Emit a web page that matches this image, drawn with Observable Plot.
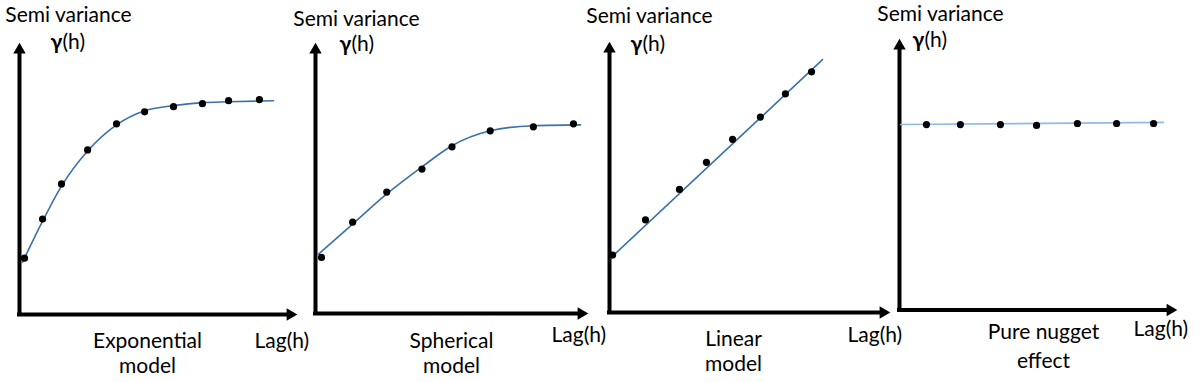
<!DOCTYPE html>
<html>
<head>
<meta charset="utf-8">
<script src="https://cdn.jsdelivr.net/npm/d3@7"></script>
<script src="https://cdn.jsdelivr.net/npm/@observablehq/plot@0.6"></script>
<style>
  html, body { margin: 0; padding: 0; background: #fff; }
  #chart { position: relative; width: 1200px; height: 382px; overflow: hidden; }
  #chart svg { position: absolute; left: 0; top: 0; }
</style>
</head>
<body>
<div id="chart"></div>
<script>
// ---------------- DATA (lag h and semi variance γ(h), arbitrary units 0–100) ----------------
// Exponential model
const expLag        = [1.8, 8.3, 15.1, 24.5, 34.9, 45.0, 55.4, 65.8, 75.2, 86.3];
const expGamma      = [20.7, 35.1, 48.0, 60.5, 70.1, 74.5, 76.4, 77.5, 78.6, 79.0];
const expCurveLag   = [1.1, 8.3, 15.1, 24.5, 34.9, 45.0, 55.4, 65.8, 75.2, 91.4];
const expCurveGamma = [19.2, 34.3, 47.2, 60.1, 69.7, 74.9, 76.8, 77.9, 78.2, 78.6];

// Spherical model
const sphLag        = [2.2, 13.6, 26.1, 39.0, 50.0, 64.0, 79.8, 94.5];
const sphGamma      = [20.7, 33.7, 44.8, 53.3, 61.5, 67.4, 68.9, 70.0];
const sphCurveLag   = [1.1, 13.6, 26.1, 39.0, 50.0, 64.0, 79.8, 97.1];
const sphCurveGamma = [21.9, 33.0, 44.1, 54.1, 61.9, 67.4, 69.3, 69.6];

// Linear model
const linLag        = [1.1, 12.8, 24.9, 34.5, 43.8, 53.7, 62.6, 71.9];
const linGamma      = [21.2, 34.2, 45.4, 55.4, 63.9, 72.1, 80.7, 88.8];
const linLineLag    = [0.4, 75.8];
const linLineGamma  = [20.1, 93.3];

// Pure nugget effect
const nugLag        = [9.7, 21.9, 36.3, 49.3, 64.0, 78.1, 91.4];
const nugGamma      = [68.3, 68.3, 68.3, 68.0, 68.7, 68.7, 68.7];
const nugLineLag    = [0.4, 95.0];
const nugLineGamma  = [68.3, 69.1];

// Texts
const yTitle = "Semi variance";
const yGamma = "γ";
const yH = "(h)";
const xTitle = "Lag(h)";
const modelNames = [["Exponential", "model"], ["Spherical", "model"], ["Linear", "model"], ["Pure nugget", "effect"]];

// ---------------- LAYOUT (pixel positions of each panel) ----------------
const FONT = "Lato, 'Open Sans', sans-serif";
const FS = 21;
const layout = [
  {ox: 19,  oy: 314, endX: 297,  topY: 42, sv: [68, 21],  g: [50, 48],  name: [147, 347, 372], lag: [254, 347]},
  {ox: 315, oy: 313, endX: 588,  topY: 42, sv: [356, 25], g: [339, 50], name: [451, 347, 372], lag: [551, 341]},
  {ox: 609, oy: 312, endX: 890,  topY: 41, sv: [649, 22], g: [630, 50], name: [733, 345, 370], lag: [847, 341]},
  {ox: 899, oy: 309.5, endX: 1177, topY: 38, sv: [940, 20], g: [912, 46], name: [1043, 338, 367], lag: [1133, 335]}
];

const zip = (xs, ys) => xs.map((x, i) => ({lag: x, gamma: ys[i]}));
const panels = [
  {pts: zip(expLag, expGamma), fit: zip(expCurveLag, expCurveGamma), curve: "monotone-x", color: "#3b70a8"},
  {pts: zip(sphLag, sphGamma), fit: zip(sphCurveLag, sphCurveGamma), curve: "monotone-x", color: "#3b70a8"},
  {pts: zip(linLag, linGamma), fit: zip(linLineLag, linLineGamma), curve: "linear", color: "#3b70a8"},
  {pts: zip(nugLag, nugGamma), fit: zip(nugLineLag, nugLineGamma), curve: "linear", color: "#8dbbe6"}
];

const chart = document.getElementById("chart");

panels.forEach((p, i) => {
  const L = layout[i];
  const at = (ax, ay) => ({frameAnchor: "top-left", dx: ax - L.ox, dy: ay - L.topY});
  const textStyle = {fontSize: FS, fill: "black", fontFamily: FONT, lineAnchor: "bottom"};
  const svg = Plot.plot({
    width: 1200,
    height: 382,
    marginLeft: L.ox,
    marginRight: 1200 - L.endX,
    marginTop: L.topY,
    marginBottom: 382 - L.oy,
    x: {domain: [0, 100], axis: null},
    y: {domain: [0, 100], axis: null},
    style: {background: "transparent", overflow: "visible", fontFamily: FONT, maxWidth: "none"},
    marks: [
      // axes (y1 = top end so that insetTop trims under the arrowhead)
      Plot.ruleX([0], {y1: 100, y2: 0, stroke: "black", strokeWidth: 4, insetTop: 8, insetBottom: -2}),
      Plot.ruleY([0], {x1: 0, x2: 100, stroke: "black", strokeWidth: 4, insetRight: 8, insetLeft: -2}),
      Plot.dot([0], {x: 0, y: 100, symbol: "triangle", r: 4.6, fill: "black", stroke: null, dy: 7.3}),
      Plot.dot([0], {x: 100, y: 0, symbol: "triangle", r: 4.6, fill: "black", stroke: null, rotate: 90, dx: -7.3}),
      // fitted model
      Plot.line(p.fit, {x: "lag", y: "gamma", stroke: p.color, strokeWidth: 1.6, curve: p.curve}),
      // experimental points
      Plot.dot(p.pts, {x: "lag", y: "gamma", r: 3.6, fill: "black", stroke: null}),
      // labels
      Plot.text([yTitle], {text: d => d, textAnchor: "middle", ...textStyle, ...at(L.sv[0], L.sv[1])}),
      Plot.text([yGamma], {text: d => d, textAnchor: "start", fontWeight: "bold", ...textStyle, ...at(L.g[0], L.g[1])}),
      Plot.text([yH], {text: d => d, textAnchor: "start", ...textStyle, ...at(L.g[0] + 12, L.g[1])}),
      Plot.text([modelNames[i][0]], {text: d => d, textAnchor: "middle", ...textStyle, ...at(L.name[0], L.name[1])}),
      Plot.text([modelNames[i][1]], {text: d => d, textAnchor: "middle", ...textStyle, ...at(L.name[0], L.name[2])}),
      Plot.text([xTitle], {text: d => d, textAnchor: "start", ...textStyle, ...at(L.lag[0], L.lag[1])})
    ]
  });
  chart.appendChild(svg);
});
</script>
</body>
</html>
